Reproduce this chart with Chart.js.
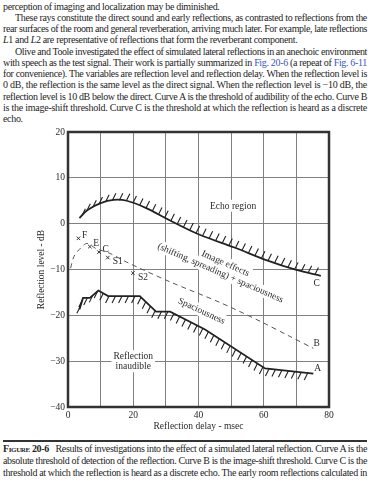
<!DOCTYPE html>
<html>
<head>
<meta charset="utf-8">
<script src="https://cdn.jsdelivr.net/npm/chart.js@4.4.1/dist/chart.umd.min.js"></script>
<style>
html, body { margin: 0; padding: 0; background: #fff; }
body { width: 370px; height: 480px; position: relative; overflow: hidden; font-family: "Liberation Serif", "DejaVu Serif", serif; color: #1e1e1e; }
.ln { position: absolute; white-space: nowrap; font-size: 10px; line-height: 11px; }
.fig { color: #3b55c4; }
.sc { font-variant: small-caps; font-weight: bold; }
#rule { position: absolute; left: 3px; width: 364px; top: 440px; height: 2px; background: #333; }
#wrap { position: absolute; left: 0; top: 0; width: 370px; height: 480px; }
</style>
</head>
<body>
<div id="text"></div>
<div id="rule"></div>
<div id="wrap"><canvas id="c"></canvas></div>
<script>
// curve C: echo threshold (solid, hatched above)
const cDelay = [3.5, 6, 10, 14, 18, 24, 31, 40, 51, 61, 70, 77.5]
const cLevel = [1.2, 3, 4.5, 5.2, 5, 3.4, 0.8, -2.3, -5.2, -8, -10.1, -11.4]

// curve B: image-shift threshold (dashed)
const bDelay = [0.8, 1.8, 3.5, 5.8, 8.5, 12.9, 18, 31.3, 46.6, 58.9, 68, 75.2]
const bLevel = [-9.7, -7.2, -5.6, -4.3, -5.4, -6.5, -8.4, -12.7, -17.2, -21.3, -24.6, -27.2]

// curve A: absolute threshold (solid, hatched below)
const aDelay = [3.5, 4.6, 6.7, 9.3, 12.3, 22, 27, 31.3, 42, 60.4, 75.2]
const aLevel = [-18.7, -16.2, -16.2, -14.6, -15.8, -15.8, -19.2, -19.2, -23.1, -31.6, -32.7]

// single measured points
const markerNames = ['F', 'E', 'C', 'S1', 'S2']
const markerDelay = [3.2, 6.7, 9.5, 12.2, 19.9]
const markerLevel = [-3.2, -5.0, -6.2, -7.4, -10.8]

const xTicks = [0, 20, 40, 60, 80]
const yTicks = [20, 10, 0, -10, -20, -30, -40]

const bodyLines = [
  'perception of imaging and localization may be diminished.',
  'These rays constitute the direct sound and early reflections, as contrasted to reflections from the',
  'rear surfaces of the room and general reverberation, arriving much later. For example, late reflections',
  '<i>L</i>1 and <i>L</i>2 are representative of reflections that form the reverberant component.',
  'Olive and Toole investigated the effect of simulated lateral reflections in an anechoic environment',
  'with speech as the test signal. Their work is partially summarized in <span class="fig">Fig. 20-6</span> (a repeat of <span class="fig">Fig. 6-11</span>',
  'for convenience). The variables are reflection level and reflection delay. When the reflection level is',
  '0 dB, the reflection is the same level as the direct signal. When the reflection level is \u221210 dB, the',
  'reflection level is 10 dB below the direct. Curve A is the threshold of audibility of the echo. Curve B',
  'is the image-shift threshold. Curve C is the threshold at which the reflection is heard as a discrete',
  'echo.'
]
const bodyIndent = [0, 1, 0, 0, 1, 0, 0, 0, 0, 0, 0]
const bodyJustify = [0, 1, 1, 0, 1, 1, 1, 1, 1, 1, 0]

const captionLines = [
  '<span class="sc">Figure 20-6</span>&ensp; Results of investigations into the effect of a simulated lateral reflection. Curve A is the',
  'absolute threshold of detection of the reflection. Curve B is the image-shift threshold. Curve C is the',
  'threshold at which the reflection is heard as a discrete echo. The early room reflections calculated in'
]

const notes = [
  { text: 'Echo region', x: 50.6, y: 3.9, rot: 0 },
  { text: 'Image effects', x: 48.3, y: -8.6, rot: 24 },
  { text: '(shifting, spreading) + spaciousness', x: 46.8, y: -10.7, rot: 23.5 },
  { text: 'Spaciousness', x: 41, y: -19, rot: 25 },
  { text: 'Reflection', x: 20, y: -28.9, rot: 0 },
  { text: 'inaudible', x: 20, y: -31.1, rot: 0 },
  { text: 'C', x: 76.2, y: -12.9, rot: 0, plain: true },
  { text: 'B', x: 76.2, y: -26, rot: 0, plain: true },
  { text: 'A', x: 76.5, y: -31.5, rot: 0, plain: true }
]

// ---- page text ----
function placeLines(lines, top, step, indent, justify) {
  const box = document.getElementById('text')
  const els = []
  lines.forEach((html, i) => {
    const el = document.createElement('div')
    el.className = 'ln'
    el.innerHTML = html
    el.style.left = (3 + (indent ? indent[i] * 12 : 0)) + 'px'
    el.style.top = (top + i * step) + 'px'
    box.appendChild(el)
    els.push(el)
  })
  let sum = 0, n = 0
  els.forEach((el, i) => {
    if (!justify[i]) return
    const target = 364 - (indent ? indent[i] * 12 : 0)
    const w = el.getBoundingClientRect().width
    const ls = (target - w) / el.textContent.length
    el.style.letterSpacing = ls + 'px'
    sum += ls; n++
  })
  els.forEach((el, i) => {
    if (!justify[i]) el.style.letterSpacing = (n ? sum / n : 0) + 'px'
  })
}
placeLines(bodyLines, 0.5, 11.25, bodyIndent, bodyJustify)
placeLines(captionLines, 443, 12, null, [1, 1, 1])

// ---- chart ----
const serif = "'Liberation Serif', 'DejaVu Serif', serif"
Chart.defaults.font.family = serif
Chart.defaults.color = '#2a2a2a'

const toPts = (xs, ys) => xs.map((x, i) => ({ x, y: ys[i] }))
const minus = v => v < 0 ? '\u2212' + Math.abs(v) : String(v)

const hatchPlugin = {
  id: 'hatch',
  afterDatasetsDraw(chart) {
    const ctx = chart.ctx
    chart.data.datasets.forEach((ds, i) => {
      const h = ds.hatch
      if (!h) return
      const pts = chart.getDatasetMeta(i).data.map(p => [p.x, p.y])
      ctx.save()
      ctx.strokeStyle = '#222'
      ctx.lineWidth = 1.1
      ctx.beginPath()
      let carry = h.step / 2
      for (let k = 0; k < pts.length - 1; k++) {
        const [x0, y0] = pts[k], [x1, y1] = pts[k + 1]
        const len = Math.hypot(x1 - x0, y1 - y0)
        let t = carry
        while (t <= len) {
          const px = x0 + (x1 - x0) * t / len
          const py = y0 + (y1 - y0) * t / len
          ctx.moveTo(px, py)
          ctx.lineTo(px + h.dx, py + h.dy)
          t += h.step
        }
        carry = t - len
      }
      ctx.stroke()
      ctx.restore()
    })
  }
}

const notesPlugin = {
  id: 'notes',
  beforeDatasetsDraw(chart) {
    const ctx = chart.ctx
    const xs = chart.scales.x, ys = chart.scales.y
    ctx.save()
    ctx.font = '9.5px ' + serif
    ctx.textAlign = 'center'
    ctx.textBaseline = 'middle'
    notes.forEach(n => {
      ctx.save()
      ctx.translate(xs.getPixelForValue(n.x), ys.getPixelForValue(n.y))
      ctx.rotate(n.rot * Math.PI / 180)
      const w = ctx.measureText(n.text).width
      if (!n.plain) {
        ctx.fillStyle = '#fff'
        ctx.fillRect(-w / 2 - 2, -6, w + 4, 12)
      }
      ctx.fillStyle = '#2a2a2a'
      ctx.fillText(n.text, 0, 0.5)
      ctx.restore()
    })
    ctx.restore()
  },
  afterDatasetsDraw(chart) {
    const ctx = chart.ctx
    const meta = chart.getDatasetMeta(3)
    ctx.save()
    ctx.font = '9.5px ' + serif
    ctx.fillStyle = '#2a2a2a'
    ctx.textBaseline = 'middle'
    meta.data.forEach((p, i) => {
      const name = markerNames[i]
      const below = name[0] === 'S'
      ctx.fillText(name, p.x + (below ? 5 : 3.5), p.y + (below ? 4 : -3))
    })
    // frame
    const a = chart.chartArea
    ctx.strokeStyle = '#333'
    ctx.lineWidth = 2.5
    ctx.strokeRect(a.left, a.top, a.right - a.left, a.bottom - a.top)
    ctx.restore()
  }
}

new Chart(document.getElementById('c'), {
  type: 'scatter',
  data: {
    datasets: [
      {
        label: 'C',
        data: toPts(cDelay, cLevel),
        showLine: true,
        borderColor: '#222',
        borderWidth: 1.8,
        pointRadius: 0,
        tension: 0.35,
        hatch: { dx: 3.5, dy: -7, step: 7 }
      },
      {
        label: 'B',
        data: toPts(bDelay, bLevel),
        showLine: true,
        borderColor: '#555',
        borderWidth: 1,
        borderDash: [5, 4],
        pointRadius: 0,
        tension: 0.3
      },
      {
        label: 'A',
        data: toPts(aDelay, aLevel),
        showLine: true,
        borderColor: '#222',
        borderWidth: 1.8,
        pointRadius: 0,
        tension: 0,
        hatch: { dx: -3.5, dy: 7, step: 6.5 }
      },
      {
        label: 'points',
        data: toPts(markerDelay, markerLevel),
        pointStyle: 'crossRot',
        pointRadius: 2.5,
        borderColor: '#333',
        borderWidth: 1
      }
    ]
  },
  options: {
    responsive: true,
    maintainAspectRatio: false,
    animation: false,
    events: [],
    layout: { padding: { left: 36, top: 132, right: 41, bottom: 48 } },
    plugins: { legend: { display: false }, tooltip: { enabled: false } },
    scales: {
      x: {
        type: 'linear',
        min: 0,
        max: 80,
        afterFit: s => { s.height = 25 },
        grid: { color: '#808080', lineWidth: 1, drawTicks: false },
        border: { display: false },
        ticks: {
          stepSize: 10,
          padding: 3,
          font: { size: 9.5 },
          callback: v => xTicks.includes(v) ? String(v) : ''
        },
        title: { display: true, text: 'Reflection delay - msec', font: { size: 9.5 }, padding: 0 }
      },
      y: {
        min: -40,
        max: 20,
        afterFit: s => { s.width = 32 },
        grid: { color: '#808080', lineWidth: 1, drawTicks: false },
        border: { display: false },
        ticks: {
          stepSize: 10,
          padding: 3,
          font: { size: 9.5 },
          callback: v => yTicks.includes(v) ? minus(v) : ''
        },
        title: { display: true, text: 'Reflection level - dB', font: { size: 9.5 }, padding: 0 }
      }
    }
  },
  plugins: [hatchPlugin, notesPlugin]
})
</script>
</body>
</html>
